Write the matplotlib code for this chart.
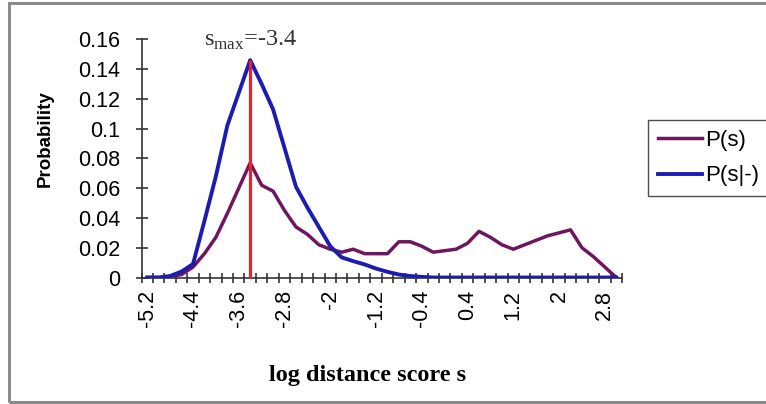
import matplotlib
matplotlib.use("Agg")
import matplotlib.pyplot as plt
from matplotlib.patches import Rectangle

# log distance score categories (one point per 0.2 step)
scores = [-5.2, -5.0, -4.8, -4.6, -4.4, -4.2, -4.0, -3.8, -3.6, -3.4,
          -3.2, -3.0, -2.8, -2.6, -2.4, -2.2, -2.0, -1.8, -1.6, -1.4,
          -1.2, -1.0, -0.8, -0.6, -0.4, -0.2, 0.0, 0.2, 0.4, 0.6,
          0.8, 1.0, 1.2, 1.4, 1.6, 1.8, 2.0, 2.2, 2.4, 2.6,
          2.8, 3.0]

# P(s): all pairs
p_s = [0.0, 0.0, 0.0005, 0.002, 0.007, 0.016, 0.027, 0.043, 0.060, 0.077,
       0.062, 0.058, 0.045, 0.034, 0.029, 0.022, 0.019, 0.017, 0.019, 0.016,
       0.016, 0.016, 0.024, 0.024, 0.021, 0.017, 0.018, 0.019, 0.023, 0.031,
       0.027, 0.022, 0.019, 0.022, 0.025, 0.028, 0.030, 0.032, 0.020, 0.014,
       0.007, 0.0]

# P(s|-): negative pairs
p_s_neg = [0.0, 0.0, 0.001, 0.004, 0.009, 0.038, 0.068, 0.102, 0.124, 0.146,
           0.130, 0.113, 0.087, 0.061, 0.047, 0.034, 0.021, 0.0135, 0.011, 0.0088,
           0.006, 0.0038, 0.002, 0.001, 0.0004, 0.0, 0.0, 0.0, 0.0, 0.0,
           0.0, 0.0, 0.0, 0.0, 0.0, 0.0, 0.0, 0.0, 0.0, 0.0,
           0.0, 0.0]

s_max = -3.4
s_max_height = 0.146

x_tick_values = [-5.2, -4.4, -3.6, -2.8, -2.0, -1.2, -0.4, 0.4, 1.2, 2.0, 2.8]
x_tick_labels = ["-5.2", "-4.4", "-3.6", "-2.8", "-2", "-1.2", "-0.4", "0.4", "1.2", "2", "2.8"]
y_tick_values = [0.0, 0.02, 0.04, 0.06, 0.08, 0.10, 0.12, 0.14, 0.16]
y_tick_labels = ["0", "0.02", "0.04", "0.06", "0.08", "0.1", "0.12", "0.14", "0.16"]

plt.rcParams["mathtext.fontset"] = "custom"
plt.rcParams["mathtext.rm"] = "Liberation Serif"

W, H = 766, 404
fig = plt.figure(figsize=(W / 100, H / 100), dpi=100)


def px(x0, y0, w, h):
    return [x0 / W, 1 - (y0 + h) / H, w / W, h / H]


# outer chart frame
fig.patches.append(Rectangle((9 / W, 1 - 402 / H), 770 / W, 399 / H,
                             transform=fig.transFigure, fill=False,
                             edgecolor="#8a8a8a", linewidth=2.2))

ax = fig.add_axes(px(141.5, 39.3, 480.5, 238.2))
ax.set_xlim(-5.3, 3.1)
ax.set_ylim(0, 0.16)

purple = "#6e165f"
blue = "#1c1cb0"
ax.plot(scores, p_s, color=purple, lw=2.5, label="P(s)", zorder=3, solid_joinstyle="round")
ax.plot(scores, p_s_neg, color=blue, lw=2.8, label="P(s|-)", zorder=4, solid_joinstyle="round")
ax.vlines(s_max, 0, s_max_height, color="#e3262b", lw=2.3, zorder=5)

for side in ("top", "right"):
    ax.spines[side].set_visible(False)
for side in ("left", "bottom"):
    ax.spines[side].set_color("#333333")
    ax.spines[side].set_linewidth(1.2)
    ax.spines[side].set_zorder(2)

tick_font = dict(family="Liberation Sans", size=15.5)
ax.set_yticks(y_tick_values)
ax.set_yticklabels(y_tick_labels, fontdict=tick_font)
ax.tick_params(axis="y", direction="inout", length=9, width=1.2, color="#333333", pad=11)

ax.set_xticks(x_tick_values)
ax.set_xticklabels(x_tick_labels, fontdict=tick_font, rotation=90, va="top", ha="center")
ax.tick_params(axis="x", which="major", length=0, pad=9)
boundaries = [round(-5.3 + 0.2 * k, 1) for k in range(len(scores) + 1)]
ax.set_xticks(boundaries, minor=True)
ax.tick_params(axis="x", which="minor", direction="inout", length=7, width=1.2, color="#333333")

fig.text(45 / W, 1 - 139 / H, "Probability", rotation=90, ha="center", va="center",
         family="Liberation Sans", weight="bold", size=13.5)
fig.text(368 / W, 1 - 376 / H, "log distance score s", ha="center", va="center",
         family="Liberation Serif", weight="bold", size=17.5)
ax.text(s_max, 0.1515, r"$\mathrm{s}_{\mathrm{max}}$=-3.4", ha="center", va="bottom",
        size=17.5, color="#333333", family="Liberation Serif", zorder=6)

leg = ax.legend(loc="upper left", bbox_to_anchor=(648 / W, 1 - 120 / H),
                bbox_transform=fig.transFigure, borderaxespad=0, frameon=True,
                fancybox=False, edgecolor="#222222", handlelength=2.0,
                handletextpad=0.1, labelspacing=0.65, borderpad=0.45,
                prop=dict(family="Liberation Sans", size=16))
leg.get_frame().set_linewidth(1.0)

fig.savefig("out.png", dpi=100, facecolor="white")
